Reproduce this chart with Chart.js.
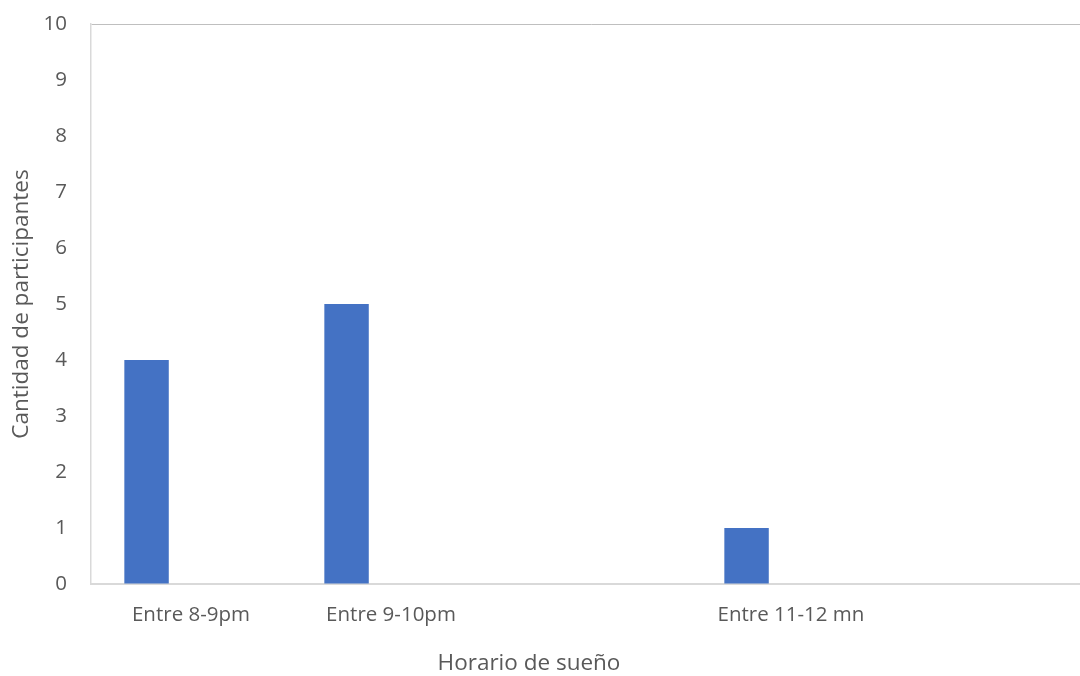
<!DOCTYPE html>
<html lang="es">
<head>
    <meta charset="UTF-8">
    <title>Horario de sueño</title>
    <script src="https://cdn.jsdelivr.net/npm/chart.js"></script>
    <style>
        html, body { margin: 0; padding: 0; overflow: hidden; background: #fff; }
        #wrap { position: relative; width: 1100px; height: 676px; }
    </style>
</head>
<body>
    <div id="wrap">
        <canvas id="myChart"></canvas>
    </div>

    <script>
        // Datos del gráfico
        const categorias = ['Entre 8-9pm', 'Entre 9-10pm', '', 'Entre 11-12 mn', ''];
        const serie1 = [4, 5, null, 1, null];
        const serie2 = [null, null, null, null, null];
        const serie3 = [null, null, null, null, null];
        const ticksY = [0, 1, 2, 3, 4, 5, 6, 7, 8, 9, 10];

        const tituloX = 'Horario de sueño';
        const tituloY = 'Cantidad de participantes';

        const colorTexto = '#595959';
        const familia = "'Open Sans', 'DejaVu Sans', sans-serif";
        const fuenteTicks = { family: familia, size: 20.5 };
        const fuenteTitulo = { family: familia, size: 22.5 };

        // Título del eje X, dibujado aparte para poder fijar su posición horizontal
        const tituloEjeX = {
            id: 'tituloEjeX',
            afterDraw(chart) {
                const ctx = chart.ctx;
                ctx.save();
                ctx.font = fuenteTitulo.size + 'px ' + fuenteTitulo.family;
                ctx.fillStyle = colorTexto;
                ctx.textAlign = 'center';
                ctx.textBaseline = 'middle';
                ctx.fillText(tituloX, 529, 664);
                ctx.restore();
            }
        };

        // anula el margen extra que reservan las etiquetas en los extremos
        function sinMargen(scale) {
            scale.paddingTop = 0;
            scale.paddingBottom = 0;
            scale.paddingLeft = 0;
            scale.paddingRight = 0;
        }

        const ctx = document.getElementById('myChart').getContext('2d');
        window.myChart = new Chart(ctx, {
            type: 'bar',
            data: {
                labels: categorias,
                datasets: [
                    { label: 'Serie1', data: serie1, backgroundColor: '#4472C4' },
                    { label: 'Serie2', data: serie2, backgroundColor: '#ED7D31' },
                    { label: 'Serie3', data: serie3, backgroundColor: '#A5A5A5' }
                ]
            },
            options: {
                responsive: true,
                maintainAspectRatio: false,
                animation: false,
                layout: { padding: { top: 24, right: 9, left: 0, bottom: 0 } },
                datasets: {
                    bar: { categoryPercentage: 3 / 4.5, barPercentage: 1 }
                },
                plugins: {
                    legend: { display: false },
                    tooltip: { enabled: false }
                },
                scales: {
                    x: {
                        grid: { display: false, drawTicks: false },
                        border: { display: true, color: '#d9d9d9', width: 2 },
                        ticks: {
                            color: colorTexto,
                            font: fuenteTicks,
                            padding: 19,
                            maxRotation: 0,
                            autoSkip: false
                        },
                        afterFit(scale) {
                            scale.height = 92;
                            sinMargen(scale);
                        }
                    },
                    y: {
                        min: 0,
                        max: 10,
                        afterBuildTicks(scale) {
                            scale.ticks = ticksY.map(v => ({ value: v }));
                        },
                        grid: {
                            drawTicks: false,
                            // solo la línea superior del marco
                            color: c => c.tick && c.tick.value === 10 ? '#bfbfbf' : 'rgba(0,0,0,0)'
                        },
                        border: { display: true, color: '#d9d9d9', width: 1.5 },
                        ticks: {
                            color: colorTexto,
                            font: fuenteTicks,
                            padding: 24
                        },
                        title: {
                            display: true,
                            text: tituloY,
                            color: colorTexto,
                            font: fuenteTitulo,
                            padding: { top: 8, bottom: 0 }
                        },
                        afterFit(scale) {
                            scale.width = 91;
                            sinMargen(scale);
                        }
                    }
                }
            },
            plugins: [tituloEjeX]
        });
    </script>
</body>
</html>
